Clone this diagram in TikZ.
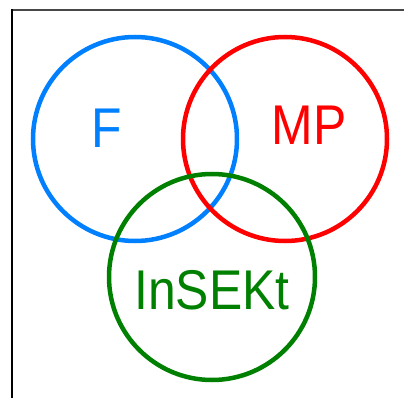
\documentclass[tikz,border=0pt]{standalone}
\usepackage{fontspec}
\usepackage{graphicx}
\setmainfont{Liberation Sans}
\definecolor{setblue}{RGB}{0,128,255}
\definecolor{setred}{RGB}{255,0,0}
\definecolor{setgreen}{RGB}{0,128,0}
\newcommand{\setname}[1]{\scalebox{0.89}[1]{#1}}
\tikzset{
  setring/.style={line width=4.5pt},
  setlabel/.style={font=\fontsize{56}{60}\selectfont, inner sep=0pt, anchor=center}
}
\begin{document}
\begin{tikzpicture}[x=1pt, y=-1pt]
  \useasboundingbox (0,0) rectangle (404,398);
  \fill[white] (0,0) rectangle (404,398);
  % open frame: top and left edges only
  \draw[line width=2.4pt, color=black!72] (11,10) -- (404,10);
  \draw[line width=1.8pt, black] (11.7,9) -- (11.7,398);
  % the three sets
  \draw[setring, setblue] (135,139) circle (102);
  \draw[setring, setred] (285,139) circle (102);
  \draw[setring, setgreen] (212,277) circle (103);
  \node[setlabel, text=setblue] (f) at (107,128) {\setname{F}};
  \node[setlabel, text=setred] (mp) at (309,125) {\setname{MP}};
  \node[setlabel, text=setgreen] (insekt) at (212,290) {\setname{InSEKt}};
\end{tikzpicture}
\end{document}
